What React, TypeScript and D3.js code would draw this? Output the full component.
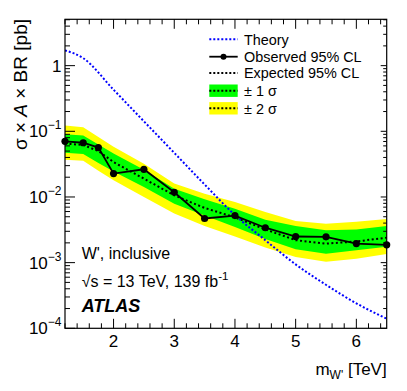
import * as d3 from "d3";

// W' limit scan points (TeV)
const massPoints = [1.2, 1.5, 1.75, 2, 2.5, 3, 3.5, 4, 4.5, 5, 5.5, 6, 6.5];
const observed = [0.0705, 0.067, 0.0565, 0.0227, 0.0264, 0.0118, 0.0047, 0.0052, 0.0034, 0.0025, 0.00247, 0.00195, 0.00187];
const expected = [0.065, 0.062, 0.05, 0.034, 0.019, 0.0106, 0.0068, 0.0049, 0.0032, 0.0022, 0.00195, 0.0021, 0.0024];
const plus1 = [0.09, 0.086, 0.063, 0.046, 0.026, 0.0134, 0.0092, 0.0066, 0.0045, 0.0036, 0.0031, 0.0032, 0.0036];
const minus1 = [0.047, 0.045, 0.033, 0.0245, 0.0142, 0.0079, 0.0052, 0.0035, 0.0023, 0.0016, 0.00137, 0.00155, 0.00175];
const plus2 = [0.123, 0.115, 0.082, 0.058, 0.032, 0.016, 0.0112, 0.0084, 0.0059, 0.0043, 0.0039, 0.0042, 0.0046];
const minus2 = [0.037, 0.0355, 0.025, 0.018, 0.01, 0.0056, 0.0036, 0.0025, 0.0017, 0.00122, 0.00103, 0.00115, 0.00135];

const theoryMass = [1.2, 1.5, 2, 2.5, 3, 3.5, 4, 4.5, 5, 5.5, 6, 6.5];
const theory = [1.71, 1.3, 0.43, 0.142, 0.047, 0.0155, 0.0053, 0.0022, 0.00094, 0.00046, 0.00024, 0.00014];

const xTicks = [2, 3, 4, 5, 6];
const yDecades = [-4, -3, -2, -1, 0];
const legendLabels = ["Theory", "Observed 95% CL", "Expected 95% CL", "\u00b1 1 \u03c3", "\u00b1 2 \u03c3"];

const W = 407;
const H = 391;
const m = { left: 65, right: 386.7, top: 19.3, bottom: 328.3 };
const FONT = "'Liberation Sans', Arial, Helvetica, sans-serif";

export default function App() {
  const x = d3.scaleLinear().domain([1.2, 6.5]).range([m.left, m.right]);
  const y = d3.scaleLog().domain([1e-4, 5.08]).range([m.bottom, m.top]);

  const area = (hi: number[], lo: number[]) =>
    d3
      .area<number>()
      .x((_, i) => x(massPoints[i]))
      .y0((_, i) => y(lo[i]))
      .y1((_, i) => y(hi[i]))(hi) || "";

  const line = (xs: number[], ys: number[], curve = d3.curveLinear) =>
    d3
      .line<number>()
      .x((_, i) => x(xs[i]))
      .y((v) => y(v))
      .curve(curve)(ys) || "";

  // minor x ticks every 0.2 TeV
  const xMinor = d3.range(1.2, 6.51, 0.2).map((v) => +v.toFixed(1)).filter((v) => !xTicks.includes(v));
  const yMinor: number[] = [];
  yDecades.forEach((d) => {
    for (let k = 2; k <= 9; k++) {
      const v = k * Math.pow(10, d);
      if (v <= 5.08) yMinor.push(v);
    }
  });

  const legX0 = 209.3;
  const legX1 = 237.7;
  const legTextX = 244;
  const legY = [39.3, 56.7, 72.9, 90.7, 108.3];

  return (
    <svg
      width={W}
      height={H}
      style={{ position: "absolute", left: 0, top: 0, background: "#fff" }}
      fontFamily={FONT}
    >
      <defs>
        <clipPath id="plot">
          <rect x={m.left} y={m.top} width={m.right - m.left} height={m.bottom - m.top} />
        </clipPath>
      </defs>

      <g clipPath="url(#plot)">
        <path d={area(plus2, minus2)} fill="#ffff00" />
        <path d={area(plus1, minus1)} fill="#00ff00" />
        <path d={line(massPoints, expected)} fill="none" stroke="#000" strokeWidth={2} strokeDasharray="2,2.5" />
        <path
          d={line(theoryMass, theory, d3.curveMonotoneX)}
          fill="none"
          stroke="#0000ff"
          strokeWidth={2}
          strokeDasharray="2,2"
        />
        <path d={line(massPoints, observed)} fill="none" stroke="#000" strokeWidth={1.8} />
      </g>
      {observed.map((v, i) => (
        <circle key={i} cx={x(massPoints[i])} cy={y(v)} r={3.6} fill="#000" />
      ))}

      {/* frame */}
      <rect
        x={m.left}
        y={m.top}
        width={m.right - m.left}
        height={m.bottom - m.top}
        fill="none"
        stroke="#000"
        strokeWidth={1.2}
      />

      {/* x ticks, bottom and top */}
      <g stroke="#000" strokeWidth={1}>
        {xTicks.map((t) => (
          <g key={"xt" + t}>
            <line x1={x(t)} x2={x(t)} y1={m.bottom} y2={m.bottom - 9.5} />
            <line x1={x(t)} x2={x(t)} y1={m.top} y2={m.top + 9.5} />
          </g>
        ))}
        {xMinor.map((t) => (
          <g key={"xm" + t}>
            <line x1={x(t)} x2={x(t)} y1={m.bottom} y2={m.bottom - 5} />
            <line x1={x(t)} x2={x(t)} y1={m.top} y2={m.top + 5} />
          </g>
        ))}
        {yDecades.map((d) => (
          <g key={"yt" + d}>
            <line x1={m.left} x2={m.left + 10} y1={y(Math.pow(10, d))} y2={y(Math.pow(10, d))} />
            <line x1={m.right} x2={m.right - 6} y1={y(Math.pow(10, d))} y2={y(Math.pow(10, d))} />
          </g>
        ))}
        {yMinor.map((v, i) => (
          <g key={"ym" + i}>
            <line x1={m.left} x2={m.left + 5} y1={y(v)} y2={y(v)} />
            <line x1={m.right} x2={m.right - 3.5} y1={y(v)} y2={y(v)} />
          </g>
        ))}
      </g>

      {/* x tick labels */}
      {xTicks.map((t) => (
        <text key={"xl" + t} x={x(t)} y={347} fontSize={17} textAnchor="middle">
          {t}
        </text>
      ))}

      {/* y tick labels */}
      {yDecades.map((d) =>
        d === 0 ? (
          <text key={"yl" + d} x={61.5} y={y(1) + 6} fontSize={17} textAnchor="end">
            1
          </text>
        ) : (
          <text key={"yl" + d} x={61.5} y={y(Math.pow(10, d)) + 6} fontSize={17} textAnchor="end">
            10
            <tspan fontSize={12} dy={-8}>
              {"\u2212" + -d}
            </tspan>
          </text>
        )
      )}

      {/* axis titles */}
      <text x={386.7} y={375} fontSize={17} textAnchor="end">
        m
        <tspan fontSize={12} dy={4}>
          W'
        </tspan>
        <tspan dy={-4}> [TeV]</tspan>
      </text>
      <text transform="translate(26.5,19) rotate(-90)" fontSize={19} textAnchor="end">
        {"\u03c3 \u00d7 "}
        <tspan fontStyle="italic">A</tspan>
        {" \u00d7 BR [pb]"}
      </text>

      {/* legend */}
      <line x1={legX0} x2={legX1} y1={legY[0]} y2={legY[0]} stroke="#0000ff" strokeWidth={2} strokeDasharray="2,2" />
      <line x1={legX0} x2={legX1} y1={legY[1]} y2={legY[1]} stroke="#000" strokeWidth={1.8} />
      <circle cx={(legX0 + legX1) / 2} cy={legY[1]} r={3} fill="#000" />
      <line x1={legX0} x2={legX1} y1={legY[2]} y2={legY[2]} stroke="#000" strokeWidth={2} strokeDasharray="2,2" />
      <rect x={legX0} y={legY[3] - 6.2} width={legX1 - legX0} height={12.4} fill="#00ff00" />
      <line x1={legX0} x2={legX1} y1={legY[3]} y2={legY[3]} stroke="#000" strokeWidth={2} strokeDasharray="2,2" />
      <rect x={legX0} y={legY[4] - 6.2} width={legX1 - legX0} height={12.4} fill="#ffff00" />
      <line x1={legX0} x2={legX1} y1={legY[4]} y2={legY[4]} stroke="#000" strokeWidth={2} strokeDasharray="2,2" />
      {legendLabels.map((l, i) => (
        <text key={l} x={legTextX} y={legY[i] + 5.2} fontSize={14.4}>
          {l}
        </text>
      ))}

      {/* annotations */}
      <text x={81.7} y={259} fontSize={16}>
        W', inclusive
      </text>
      <text x={81.7} y={287} fontSize={16}>
        {"\u221as = 13 TeV, 139 fb"}
        <tspan fontSize={11.5} dy={-7}>
          -1
        </tspan>
      </text>
      <text x={81.7} y={312} fontSize={18} fontWeight="bold" fontStyle="italic">
        ATLAS
      </text>
    </svg>
  );
}
